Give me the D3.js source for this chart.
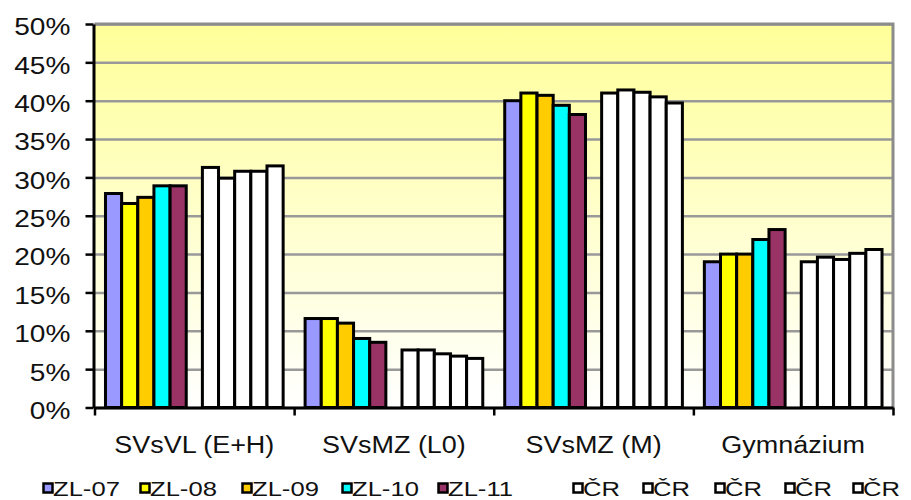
<!DOCTYPE html>
<html>
<head>
<meta charset="utf-8">
<script src="https://cdn.jsdelivr.net/npm/d3@7/dist/d3.min.js"></script>
<style>
  html, body { margin: 0; padding: 0; background: #fff; }
  svg { display: block; }
  text { font-family: "Liberation Sans", Arial, sans-serif; fill: #111; }
</style>
</head>
<body>
<svg id="chart" width="911" height="500"></svg>
<script>
// Categories (school types)
const categories = ["SVsVL (E+H)", "SVsMZ (L0)", "SVsMZ (M)", "Gymnázium"];

// Zlín region, years 2007–2011 (%)
const zl07 = [27.9, 11.6, 40.0, 19.0];
const zl08 = [26.6, 11.6, 41.0, 20.0];
const zl09 = [27.4, 11.0, 40.7, 20.0];
const zl10 = [28.9, 9.0, 39.4, 21.9];
const zl11 = [28.9, 8.5, 38.2, 23.2];

// Czech Republic, years 2007–2011 (%)
const cr07 = [31.3, 7.5, 41.0, 19.0];
const cr08 = [29.9, 7.5, 41.4, 19.6];
const cr09 = [30.8, 7.0, 41.1, 19.3];
const cr10 = [30.8, 6.7, 40.5, 20.1];
const cr11 = [31.5, 6.4, 39.7, 20.6];

const seriesNames = ["ZL-07", "ZL-08", "ZL-09", "ZL-10", "ZL-11", "", "ČR", "ČR", "ČR", "ČR", "ČR"];
const seriesValues = [zl07, zl08, zl09, zl10, zl11, null, cr07, cr08, cr09, cr10, cr11];
const seriesColors = ["#9999FF", "#FFFF00", "#FFCC00", "#00FFFF", "#993366", "none",
                      "#FFFFFF", "#FFFFFF", "#FFFFFF", "#FFFFFF", "#FFFFFF"];

const yTicks = [0, 5, 10, 15, 20, 25, 30, 35, 40, 45, 50];

const svg = d3.select("#chart");
const plot = { left: 94.5, right: 893, top: 24, bottom: 407.5 };

const x0 = d3.scaleBand().domain(categories).range([plot.left, plot.right]).paddingInner(0).paddingOuter(0);
const slots = d3.range(seriesNames.length);
const x1 = d3.scaleBand().domain(slots).range([0, x0.bandwidth()]).paddingInner(0).paddingOuter(0.68);
const y = d3.scaleLinear().domain([0, 50]).range([plot.bottom, plot.top]);

// Plot background: yellow fading to white
const defs = svg.append("defs");
const grad = defs.append("linearGradient").attr("id", "bg").attr("x1", 0).attr("y1", 0).attr("x2", 0).attr("y2", 1);
grad.append("stop").attr("offset", "0%").attr("stop-color", "#FFFF99");
grad.append("stop").attr("offset", "100%").attr("stop-color", "#FFFFFF");

svg.append("rect")
  .attr("x", plot.left).attr("y", plot.top)
  .attr("width", plot.right - plot.left).attr("height", plot.bottom - plot.top)
  .attr("fill", "url(#bg)");

// Horizontal gridlines
svg.append("g")
  .attr("transform", `translate(${plot.left},0)`)
  .call(d3.axisRight(y).tickValues(yTicks).tickSize(plot.right - plot.left).tickFormat(""))
  .call(g => g.select(".domain").remove())
  .call(g => g.selectAll("line").attr("stroke", "#999").attr("stroke-width", 2.5));

// Plot border (top and right)
svg.append("path")
  .attr("d", `M${plot.left},${plot.top}H${plot.right}V${plot.bottom}`)
  .attr("fill", "none").attr("stroke", "#8c8c8c").attr("stroke-width", 3);

// Bars
const groups = svg.append("g").selectAll("g")
  .data(categories)
  .join("g")
  .attr("transform", d => `translate(${x0(d)},0)`);

groups.selectAll("rect")
  .data((c, ci) => slots.filter(s => seriesValues[s]).map(s => ({ s, v: seriesValues[s][ci] })))
  .join("rect")
  .attr("x", d => x1(d.s))
  .attr("width", x1.bandwidth())
  .attr("y", d => y(d.v))
  .attr("height", d => y(0) - y(d.v))
  .attr("fill", d => seriesColors[d.s])
  .attr("stroke", "#000")
  .attr("stroke-width", 3);

// Y axis
const yAxis = svg.append("g")
  .attr("transform", `translate(${plot.left - 1},0)`)
  .call(d3.axisLeft(y).tickValues(yTicks).tickSize(8).tickSizeOuter(0).tickFormat(d => d + "%"));
yAxis.select(".domain").attr("stroke", "#000").attr("stroke-width", 3);
yAxis.selectAll(".tick line").attr("stroke", "#000").attr("stroke-width", 2.5);
yAxis.selectAll(".tick text")
  .attr("x", -19).attr("dy", "0.32em").attr("y", 3.5)
  .attr("transform", "scale(1.22,1)")
  .style("font-size", "23px");

// X axis: category boundary ticks
const xb = d3.scaleLinear().domain([0, categories.length]).range([plot.left, plot.right]);
const xAxisTicks = svg.append("g")
  .attr("transform", `translate(0,${plot.bottom})`)
  .call(d3.axisBottom(xb).tickValues(d3.range(categories.length + 1)).tickSize(8).tickSizeOuter(0).tickFormat(""));
xAxisTicks.select(".domain").attr("stroke", "#000").attr("stroke-width", 3);
xAxisTicks.selectAll(".tick line").attr("stroke", "#000").attr("stroke-width", 2.5);

// X axis: category labels, centred under each category
const xAxisLabels = svg.append("g")
  .attr("transform", `translate(0,${plot.bottom})`)
  .call(d3.axisBottom(x0).tickSize(0).tickPadding(0));
xAxisLabels.select(".domain").remove();
xAxisLabels.selectAll(".tick text")
  .attr("dy", null)
  .attr("x", 0)
  .attr("y", 45.5)
  .attr("transform", "scale(1.1,1)")
  .style("font-size", "24.5px");

// Legend
const legend = svg.append("g").attr("transform", "translate(0,488)");
const legendStep = [97, 102, 100, 96, 135, 0, 70, 72, 70, 68, 0];
let lx = 43;
seriesNames.forEach((name, i) => {
  if (i === 5) return;
  const item = legend.append("g").attr("transform", `translate(${lx},0)`);
  item.append("rect")
    .attr("x", 0.5).attr("y", -4.5)
    .attr("width", 9).attr("height", 9)
    .attr("fill", seriesColors[i]).attr("stroke", "#000").attr("stroke-width", 2.5);
  item.append("text")
    .attr("x", 10 / 1.22).attr("y", 7.5)
    .attr("transform", "scale(1.22,1)")
    .style("font-size", "21px")
    .text(name);
  lx += legendStep[i];
});
</script>
</body>
</html>
